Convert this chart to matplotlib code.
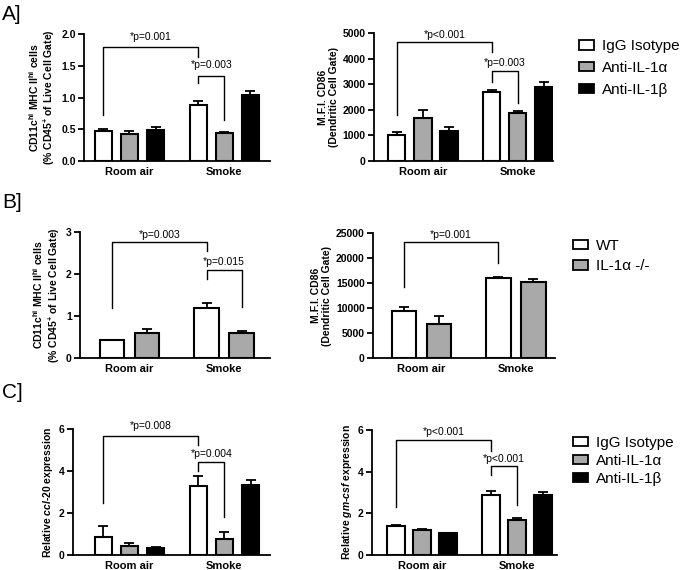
import numpy as np
import matplotlib
matplotlib.use('Agg')
import matplotlib.pyplot as plt
from matplotlib.patches import Patch

plt.rcParams['font.family'] = ['Liberation Sans', 'DejaVu Sans']
plt.rcParams['mathtext.fontset'] = 'custom'
plt.rcParams['mathtext.rm'] = 'Liberation Sans:bold'
plt.rcParams['mathtext.it'] = 'Liberation Sans:italic:bold'
plt.rcParams['mathtext.bf'] = 'Liberation Sans:bold'
plt.rcParams['mathtext.default'] = 'rm'

## Données

groupes = ['Room air', 'Smoke']
trait3 = ['IgG Isotype', 'Anti-IL-1α', 'Anti-IL-1β']
trait2 = ['WT', 'IL-1α -/-']
coul3 = ['white', '#a9a9a9', 'black']
coul2 = ['white', '#a9a9a9']

# A] CD11c hi MHC II hi (% CD45+)
a1_moy = [[0.47, 0.88], [0.43, 0.44], [0.49, 1.04]]
a1_err = [[0.03, 0.07], [0.04, 0.01], [0.04, 0.06]]
# A] MFI CD86
a2_moy = [[1020, 2680], [1680, 1860], [1190, 2900]]
a2_err = [[100, 110], [330, 100], [130, 170]]

# B] CD11c hi MHC II hi (% CD45+), WT vs IL-1a -/-
b1_moy = [[0.42, 1.18], [0.60, 0.60]]
b1_err = [[0.01, 0.12], [0.09, 0.05]]
# B] MFI CD86
b2_moy = [[9500, 16100], [6800, 15200]]
b2_err = [[700, 100], [1600, 700]]

# C] ccl-20
c1_moy = [[0.88, 3.30], [0.45, 0.78], [0.33, 3.35]]
c1_err = [[0.50, 0.45], [0.10, 0.32], [0.05, 0.20]]
# C] gm-csf
c2_moy = [[1.38, 2.90], [1.20, 1.68], [1.05, 2.90]]
c2_err = [[0.07, 0.15], [0.07, 0.12], [0.03, 0.12]]

## Fonctions de tracé

def barres(ax, centres, moy, err, couleurs, larg):
    n = len(moy)
    pos = []
    for i in range(n):
        x = np.array(centres) + (i - (n - 1) / 2)
        ax.bar(x, moy[i], larg, color=couleurs[i], edgecolor='k', lw=1.5, zorder=2)
        ax.errorbar(x, moy[i], yerr=[np.zeros(len(x)), err[i]], fmt='none',
                    ecolor='k', elinewidth=1.3, capsize=3.5, capthick=1.3, zorder=3)
        pos.append(x)
    return pos

def crochet(ax, x1, x2, y1, yh, y2, txt, yt):
    ax.plot([x1, x1, x2, x2], [y1, yh, yh, y2], color='k', lw=1, clip_on=False)
    ax.text((x1 + x2) / 2, yt, txt, ha='center', va='center', fontsize=7.5)

def style(ax, centres, xlim, ylim, yticks, ylab, fmt='{:g}'):
    for s in ['top', 'right']:
        ax.spines[s].set_visible(False)
    ax.spines['left'].set_linewidth(1.3)
    ax.spines['bottom'].set_linewidth(1.3)
    ax.set_xlim(xlim)
    ax.set_ylim(ylim)
    ax.set_xticks(centres)
    ax.set_xticklabels(groupes, fontsize=8, fontweight='bold')
    ax.tick_params(axis='x', length=0, pad=4)
    ax.set_yticks(yticks)
    ax.set_yticklabels([fmt.format(v) for v in yticks], fontsize=7.5, fontweight='bold')
    ax.tick_params(axis='y', direction='out', length=4, width=1.3, pad=2)
    ax.set_ylabel(ylab, fontsize=7.5, fontweight='bold', labelpad=3, linespacing=1.1)

fig = plt.figure(figsize=(6.85, 5.7), dpi=100)

cent3 = [0, 3.65]
cent2 = [0, 2.7]

## A]
ax = fig.add_axes([0.1226, 0.7175, 0.2715, 0.2228])
p = barres(ax, cent3, a1_moy, a1_err, coul3, 0.66)
style(ax, cent3, (-1.75, 5.40), (0, 2.0), [0, 0.5, 1.0, 1.5, 2.0],
      'CD11c$^{hi}$ MHC II$^{hi}$ cells\n(% CD45$^{+}$ of Live Cell Gate)', '{:.1f}')
crochet(ax, p[0][0], p[0][1], 0.72, 1.79, 1.64, '*p=0.001', 1.96)
crochet(ax, p[0][1], p[1][1], 1.23, 1.34, 0.65, '*p=0.003', 1.51)

ax = fig.add_axes([0.546, 0.7175, 0.2613, 0.2246])
p = barres(ax, cent3, a2_moy, a2_err, coul3, 0.66)
style(ax, cent3, (-1.88, 5.0), (0, 5000), [0, 1000, 2000, 3000, 4000, 5000],
      'M.F.I. CD86\n(Dendritic Cell Gate)')
crochet(ax, p[0][0], p[0][1], 1800, 4630, 4250, '*p<0.001', 4930)
crochet(ax, p[0][1], p[1][1], 3100, 3500, 2260, '*p=0.003', 3830)
ax.legend([Patch(facecolor=c, edgecolor='k', lw=1.3) for c in coul3], trait3,
          loc='center left', bbox_to_anchor=(579 / 685, 1 - 68 / 570),
          bbox_transform=fig.transFigure, frameon=False, fontsize=11,
          handlelength=1.0, handleheight=0.55, handletextpad=0.5,
          labelspacing=0.5, borderpad=0, borderaxespad=0)

## B]
ax = fig.add_axes([0.1168, 0.3719, 0.2774, 0.2211])
p = barres(ax, cent2, b1_moy, b1_err, coul2, 0.7)
style(ax, cent2, (-1.41, 4.01), (0, 3), [0, 1, 2, 3],
      'CD11c$^{hi}$ MHC II$^{hi}$ cells\n(% CD45$^{+}$ of Live Cell Gate)')
crochet(ax, p[0][0], p[0][1], 1.18, 2.76, 2.55, '*p=0.003', 2.92)
crochet(ax, p[0][1], p[1][1], 1.89, 2.09, 1.22, '*p=0.015', 2.29)

ax = fig.add_axes([0.5445, 0.3719, 0.2657, 0.2193])
p = barres(ax, cent2, b2_moy, b2_err, coul2, 0.7)
style(ax, cent2, (-1.38, 3.82), (0, 25000), [0, 5000, 10000, 15000, 20000, 25000],
      'M.F.I. CD86\n(Dendritic Cell Gate)')
crochet(ax, p[0][0], p[0][1], 14300, 23300, 19000, '*p=0.001', 24700)
ax.legend([Patch(facecolor=c, edgecolor='k', lw=1.3) for c in coul2], trait2,
          loc='center left', bbox_to_anchor=(573 / 685, 1 - 256 / 570),
          bbox_transform=fig.transFigure, frameon=False, fontsize=11,
          handlelength=1.0, handleheight=0.55, handletextpad=0.5,
          labelspacing=0.45, borderpad=0, borderaxespad=0)

## C]
ax = fig.add_axes([0.1066, 0.0263, 0.2876, 0.2211])
p = barres(ax, cent3, c1_moy, c1_err, coul3, 0.66)
style(ax, cent3, (-2.17, 5.40), (0, 6), [0, 2, 4, 6],
      'Relative $\\mathit{ccl}$-$\\mathit{20}$ expression')
crochet(ax, p[0][0], p[0][1], 2.47, 5.65, 5.25, '*p=0.008', 6.13)
crochet(ax, p[0][1], p[1][1], 3.98, 4.41, 1.83, '*p=0.004', 4.82)

ax = fig.add_axes([0.5431, 0.0263, 0.2701, 0.2193])
p = barres(ax, cent3, c2_moy, c2_err, coul3, 0.66)
style(ax, cent3, (-1.92, 5.19), (0, 6), [0, 2, 4, 6],
      'Relative $\\mathit{gm}$-$\\mathit{csf}$ expression')
crochet(ax, p[0][0], p[0][1], 2.32, 5.52, 5.0, '*p<0.001', 5.92)
crochet(ax, p[0][1], p[1][1], 3.84, 4.27, 2.4, '*p<0.001', 4.59)
ax.legend([Patch(facecolor=c, edgecolor='k', lw=1.3) for c in coul3], trait3,
          loc='center left', bbox_to_anchor=(573 / 685, 1 - 461 / 570),
          bbox_transform=fig.transFigure, frameon=False, fontsize=11,
          handlelength=1.0, handleheight=0.55, handletextpad=0.5,
          labelspacing=0.25, borderpad=0, borderaxespad=0)

## Lettres des panneaux
fig.text(2 / 685, 1 - 14 / 570, 'A]', fontsize=15, va='center')
fig.text(2 / 685, 1 - 203 / 570, 'B]', fontsize=15, va='center')
fig.text(2 / 685, 1 - 393 / 570, 'C]', fontsize=15, va='center')

fig.savefig('out.png', dpi=100)
